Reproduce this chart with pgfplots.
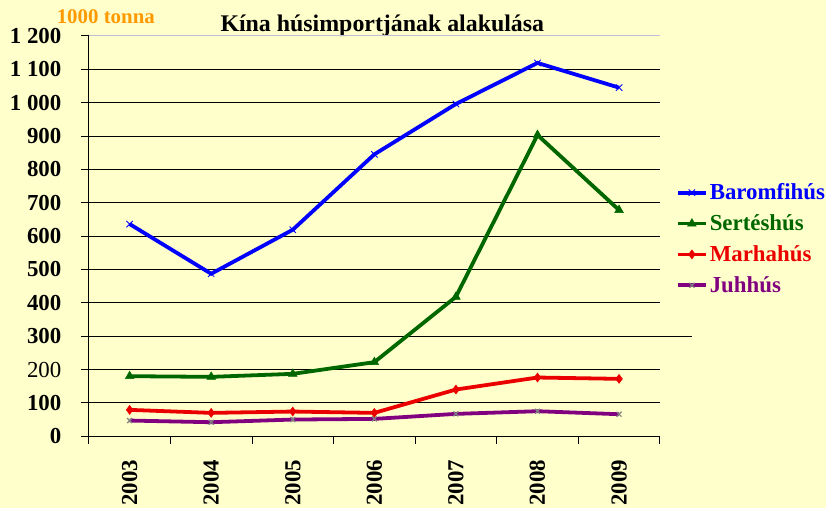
\documentclass[border=0pt]{standalone}
\usepackage{pgfplots}
\pgfplotsset{compat=1.18}
\usepackage{fontspec}
\setmainfont{Liberation Serif}
\definecolor{bg}{RGB}{255,255,204}
\definecolor{cblue}{RGB}{0,0,255}
\definecolor{cgreen}{RGB}{0,102,0}
\definecolor{cred}{RGB}{235,0,0}
\definecolor{cpurple}{RGB}{128,0,128}
\definecolor{corange}{RGB}{255,153,0}
\definecolor{topgrid}{RGB}{190,190,215}
\newcommand{\tickf}{\fontsize{23}{23}\selectfont}
\newcommand{\legf}{\fontsize{23}{23}\selectfont}
\begin{document}
\begin{tikzpicture}[x=1bp,y=1bp]
\fill[bg] (0,0) rectangle (827,509);
\node[font=\bfseries\fontsize{24}{24}\selectfont, anchor=base] at (383,477) {Kína húsimportjának alakulása};
\node[font=\bfseries\fontsize{21}{21}\selectfont, anchor=base, text=corange] at (106,485) {1000 tonna};
\begin{axis}[
  at={(89bp,72bp)}, anchor=south west,
  scale only axis, width=572bp, height=401bp,
  xmin=-0.5, xmax=6.5, ymin=0, ymax=1200,
  axis lines*=left,
  axis line style={-, black, line width=0.9bp},
  clip=false,
  tick align=outside,
  major tick length=8bp, minor tick length=8bp,
  xtick={0,...,6},
  xticklabels={2003,2004,2005,2006,2007,2008,2009},
  major x tick style={draw=none},
  minor xtick={-0.5,0.5,...,6.5},
  minor x tick style={black, line width=0.9bp},
  xticklabel style={yshift=-12bp, rotate=90, anchor=east, font=\bfseries\tickf},
  ytick={0,100,...,1100},
  yticklabels={0,100,{\mdseries 200},300,400,500,600,700,800,900,1 000,1 100},
  extra y ticks={1200},
  extra y tick labels={1 200},
  extra y tick style={major grid style={topgrid, line width=0.9bp}},
  yticklabel style={font=\bfseries\tickf, xshift=-16bp},
  major y tick style={black, line width=0.9bp},
  ymajorgrids,
  grid style={black, line width=0.9bp},
  legend style={at={(1.028,0.636)}, anchor=north west, draw=none, fill=none,
    font=\bfseries\legf, row sep=9.5bp, inner sep=0pt},
  legend cell align=left,
  legend image code/.code={\draw[mark repeat=2,mark phase=2] plot coordinates {(0bp,0bp) (14bp,0bp) (28bp,0bp)};},
]
\addplot[cblue, line width=3.8bp, mark=x, mark size=4.5bp, mark options={line width=0.8bp}]
  coordinates {(0,636)(1,487)(2,619)(3,845)(4,996)(5,1119)(6,1045)};
\addlegendentry{\textcolor{cblue}{Baromfihús}}
\addplot[cgreen, line width=3.8bp, mark=triangle*, mark size=5bp, mark options={line width=0.5bp}]
  coordinates {(0,180)(1,178)(2,187)(3,222)(4,418)(5,903)(6,678)};
\addlegendentry{\textcolor{cgreen}{Sertéshús}}
\addplot[cred, line width=3.8bp, mark=diamond*, mark size=4.5bp, mark options={line width=0.5bp}]
  coordinates {(0,79)(1,70)(2,74)(3,70)(4,140)(5,176)(6,172)};
\addlegendentry{\textcolor{cred}{Marhahús}}
\addplot[cpurple, line width=3.8bp, mark=x, mark size=3.5bp, mark options={gray, line width=1.2bp}]
  coordinates {(0,47)(1,42)(2,50)(3,52)(4,67)(5,75)(6,66)};
\addlegendentry{\textcolor{cpurple}{Juhhús}}
\draw[black, line width=0.9bp] (axis cs:6.5,300) -- (axis cs:6.9,300);
\end{axis}
\end{tikzpicture}
\end{document}
